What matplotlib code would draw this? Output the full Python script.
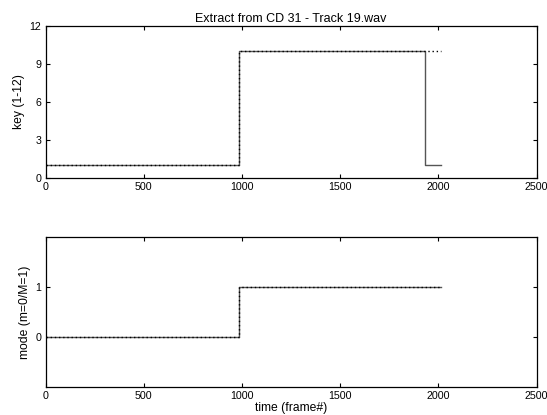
import matplotlib.pyplot as plt

plt.rcParams['font.family'] = ['Liberation Sans', 'DejaVu Sans']
plt.rcParams['font.size'] = 7.7

# step change points (frame#) and values
key_est_frames = [0, 986, 1933, 2013]
key_est_vals = [1, 10, 1, 1]
key_ref_frames = [0, 986, 2013]
key_ref_vals = [1, 10, 10]

mode_est_frames = [0, 986, 2013]
mode_est_vals = [0, 1, 1]
mode_ref_frames = [0, 986, 2013]
mode_ref_vals = [0, 1, 1]

fig = plt.figure(figsize=(5.47, 4.15), dpi=100)
ax1 = fig.add_axes([0.0832, 0.5718, 0.898, 0.3655])
ax2 = fig.add_axes([0.0832, 0.0667, 0.898, 0.3622])

ax1.step(key_est_frames, key_est_vals, where='post', color='#555555', lw=1.0)
ax1.step(key_ref_frames, key_ref_vals, where='post', color='black', lw=1.0,
         linestyle=(0, (1, 2)))
ax1.set_xlim(0, 2500)
ax1.set_ylim(0, 12)
ax1.set_yticks([0, 3, 6, 9, 12])
ax1.set_xticks([0, 500, 1000, 1500, 2000, 2500])
ax1.set_ylabel('key (1-12)', fontsize=8.7, labelpad=3)
ax1.set_title('Extract from CD 31 - Track 19.wav', fontsize=9, pad=3)

ax2.step(mode_est_frames, mode_est_vals, where='post', color='#555555', lw=1.0)
ax2.step(mode_ref_frames, mode_ref_vals, where='post', color='black', lw=1.0,
         linestyle=(0, (1, 2)))
ax2.set_xlim(0, 2500)
ax2.set_ylim(-1, 2)
ax2.set_yticks([0, 1])
ax2.set_xticks([0, 500, 1000, 1500, 2000, 2500])
ax2.set_ylabel('mode (m=0/M=1)', fontsize=8.7, labelpad=3)
ax2.set_xlabel('time (frame#)', fontsize=8.7, labelpad=0.5)

for ax in (ax1, ax2):
    ax.tick_params(direction='in', top=True, right=True, length=3, width=0.8, pad=3)
    for s in ax.spines.values():
        s.set_linewidth(0.9)

fig.savefig('out.png', dpi=100)
